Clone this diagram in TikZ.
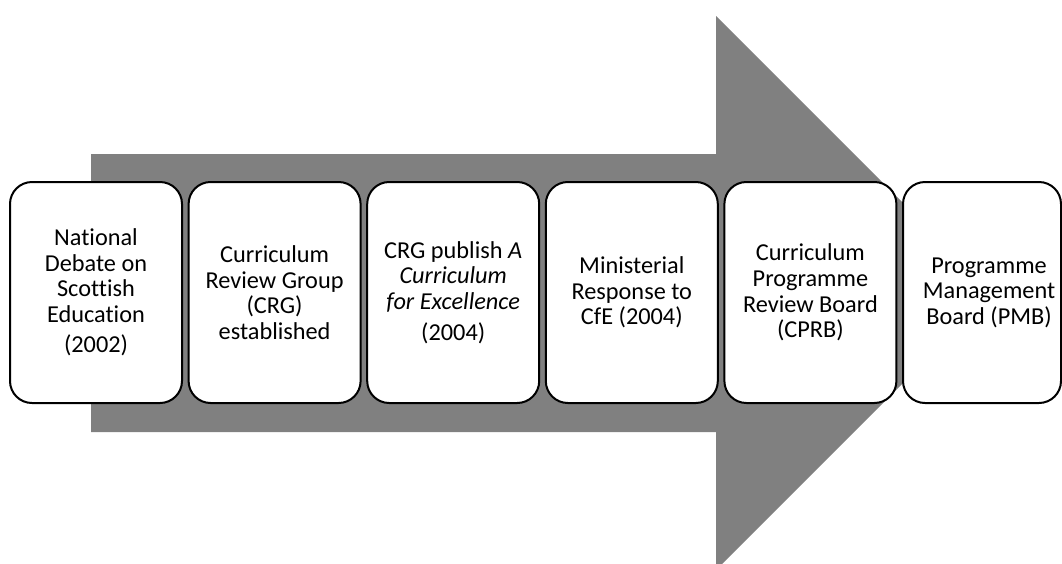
\documentclass[tikz,border=0pt]{standalone}
\usepackage{fontspec}
\setmainfont{Carlito}[Ligatures=CommonOff]
\begin{document}
\begin{tikzpicture}[x=1pt,y=-1pt,
  stage/.style={draw=black, line width=2pt, fill=white, rounded corners=22pt,
    minimum width=172pt, minimum height=221pt, inner sep=0pt, outer sep=0pt},
  stagetext/.style={align=center, font=\fontsize{24.3}{25.6}\selectfont, inner sep=0pt}]
  \useasboundingbox (0,0) rectangle (1062,563);
  \clip (0,0) rectangle (1062,563);

  % broad grey arrow behind the stages
  \fill[black!50]
    (91,154) -- (716,154) -- (716,16) -- (993,293) -- (716,570)
    -- (716,432) -- (91,432) -- cycle;

  % stage boxes
  \node[stage] (b1) at (96,292.5) {};
  \node[stage] (b2) at (274.6,292.5) {};
  \node[stage] (b3) at (453.2,292.5) {};
  \node[stage] (b4) at (631.8,292.5) {};
  \node[stage] (b5) at (810.4,292.5) {};
  \node[stage, minimum width=158pt] (b6) at (982,292.5) {};

  % stage labels
  \node[stagetext] (t1) at (b1.center) {National\\Debate on\\Scottish\\Education\\[5pt](2002)};
  \node[stagetext] (t2) at (b2.center) {Curriculum\\Review Group\\(CRG)\\established};
  \node[stagetext] (t3) at (b3.center) {CRG publish \textit{A}\\\textit{Curriculum}\\\textit{for Excellence}\\[5pt](2004)};
  \node[stagetext] (t4) at (b4.center) {Ministerial\\Response to\\CfE (2004)};
  \node[stagetext] (t5) at (b5.center) {Curriculum\\Programme\\Review Board\\(CPRB)};
  \node[stagetext] (t6) at ([xshift=7pt]b6.center) {Programme\\Management\\Board (PMB)};
\end{tikzpicture}
\end{document}
